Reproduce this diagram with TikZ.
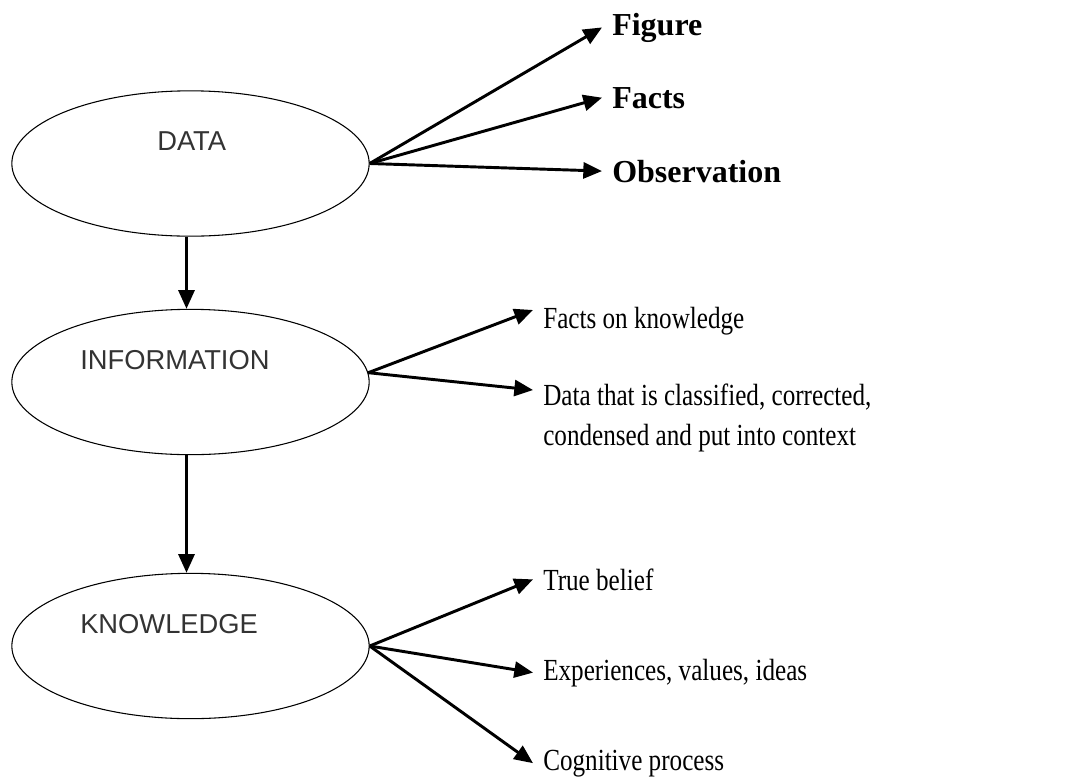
\documentclass[tikz,border=0pt]{standalone}
\usepackage{fontspec}
\setmainfont{Liberation Serif}
\newfontfamily\ovalfont{Liberation Sans}
\newfontfamily\narrowserif{Liberation Serif}[FakeStretch=0.82]
\usetikzlibrary{arrows.meta, shapes.geometric, calc}

\begin{document}
\begin{tikzpicture}[x=0.75pt, y=-0.75pt,
  oval/.style={draw, ellipse, line width=0.8pt, minimum width=268pt, minimum height=109pt, inner sep=0pt},
  ovaltext/.style={anchor=base west, inner sep=0pt, text=black!80, font=\ovalfont\fontsize{20.5}{24}\selectfont},
  boldlab/.style={anchor=base west, inner ysep=0pt, inner xsep=7.5pt, font=\bfseries\fontsize{24}{28}\selectfont},
  lab/.style={anchor=base west, inner ysep=0pt, inner xsep=7.5pt, align=left, font=\narrowserif\fontsize{23}{30}\selectfont},
  arr/.style={-{Triangle[length=14pt,width=12pt]}, line width=2.2pt}]
  \useasboundingbox (0,0) rectangle (1082,779);

  % the three ellipses
  \node[oval] (data) at (190.5,163.5) {};
  \node[oval] (info) at (190.5,382) {};
  \node[oval] (knowl) at (190.5,646) {};
  \node[ovaltext] (datatxt) at (157,150) {DATA};
  \node[ovaltext] (infotxt) at (80,369) {INFORMATION};
  \node[ovaltext] (knowltxt) at (80,633) {KNOWLEDGE};

  \draw[arr] ([xshift=-3pt]data.south) -- ([xshift=-3pt]info.north);
  \draw[arr] ([xshift=-3pt]info.south) -- ([xshift=-3pt]knowl.north);

  % data
  \node[boldlab] (fig) at (602,35) {Figure};
  \node[boldlab] (fct) at (602,108) {Facts};
  \node[boldlab] (obs) at (602,182) {Observation};
  \draw[arr] (data.east) -- (fig.west);
  \draw[arr] (data.east) -- (fct.west);
  \draw[arr] (data.east) -- (obs.west);

  % information
  \node[lab] (fok) at (533,328) {Facts on knowledge};
  \node[lab, anchor=north west] (dtc) at (533,384) {Data that is classified, corrected,\\condensed and put into context};
  \coordinate (dtcin) at (533,390);
  \draw[arr] (info.3) -- ([yshift=8pt]fok.west);
  \draw[arr] (info.3) -- (dtcin);

  % knowledge
  \node[lab] (tbl) at (533,590) {True belief};
  \node[lab] (exper) at (533,680) {Experiences, values, ideas};
  \node[lab] (cog) at (533,770) {Cognitive process};
  \draw[arr] (knowl.east) -- (tbl.west);
  \draw[arr] (knowl.east) -- (exper.west);
  \draw[arr] (knowl.east) -- (cog.west);
\end{tikzpicture}
\end{document}
